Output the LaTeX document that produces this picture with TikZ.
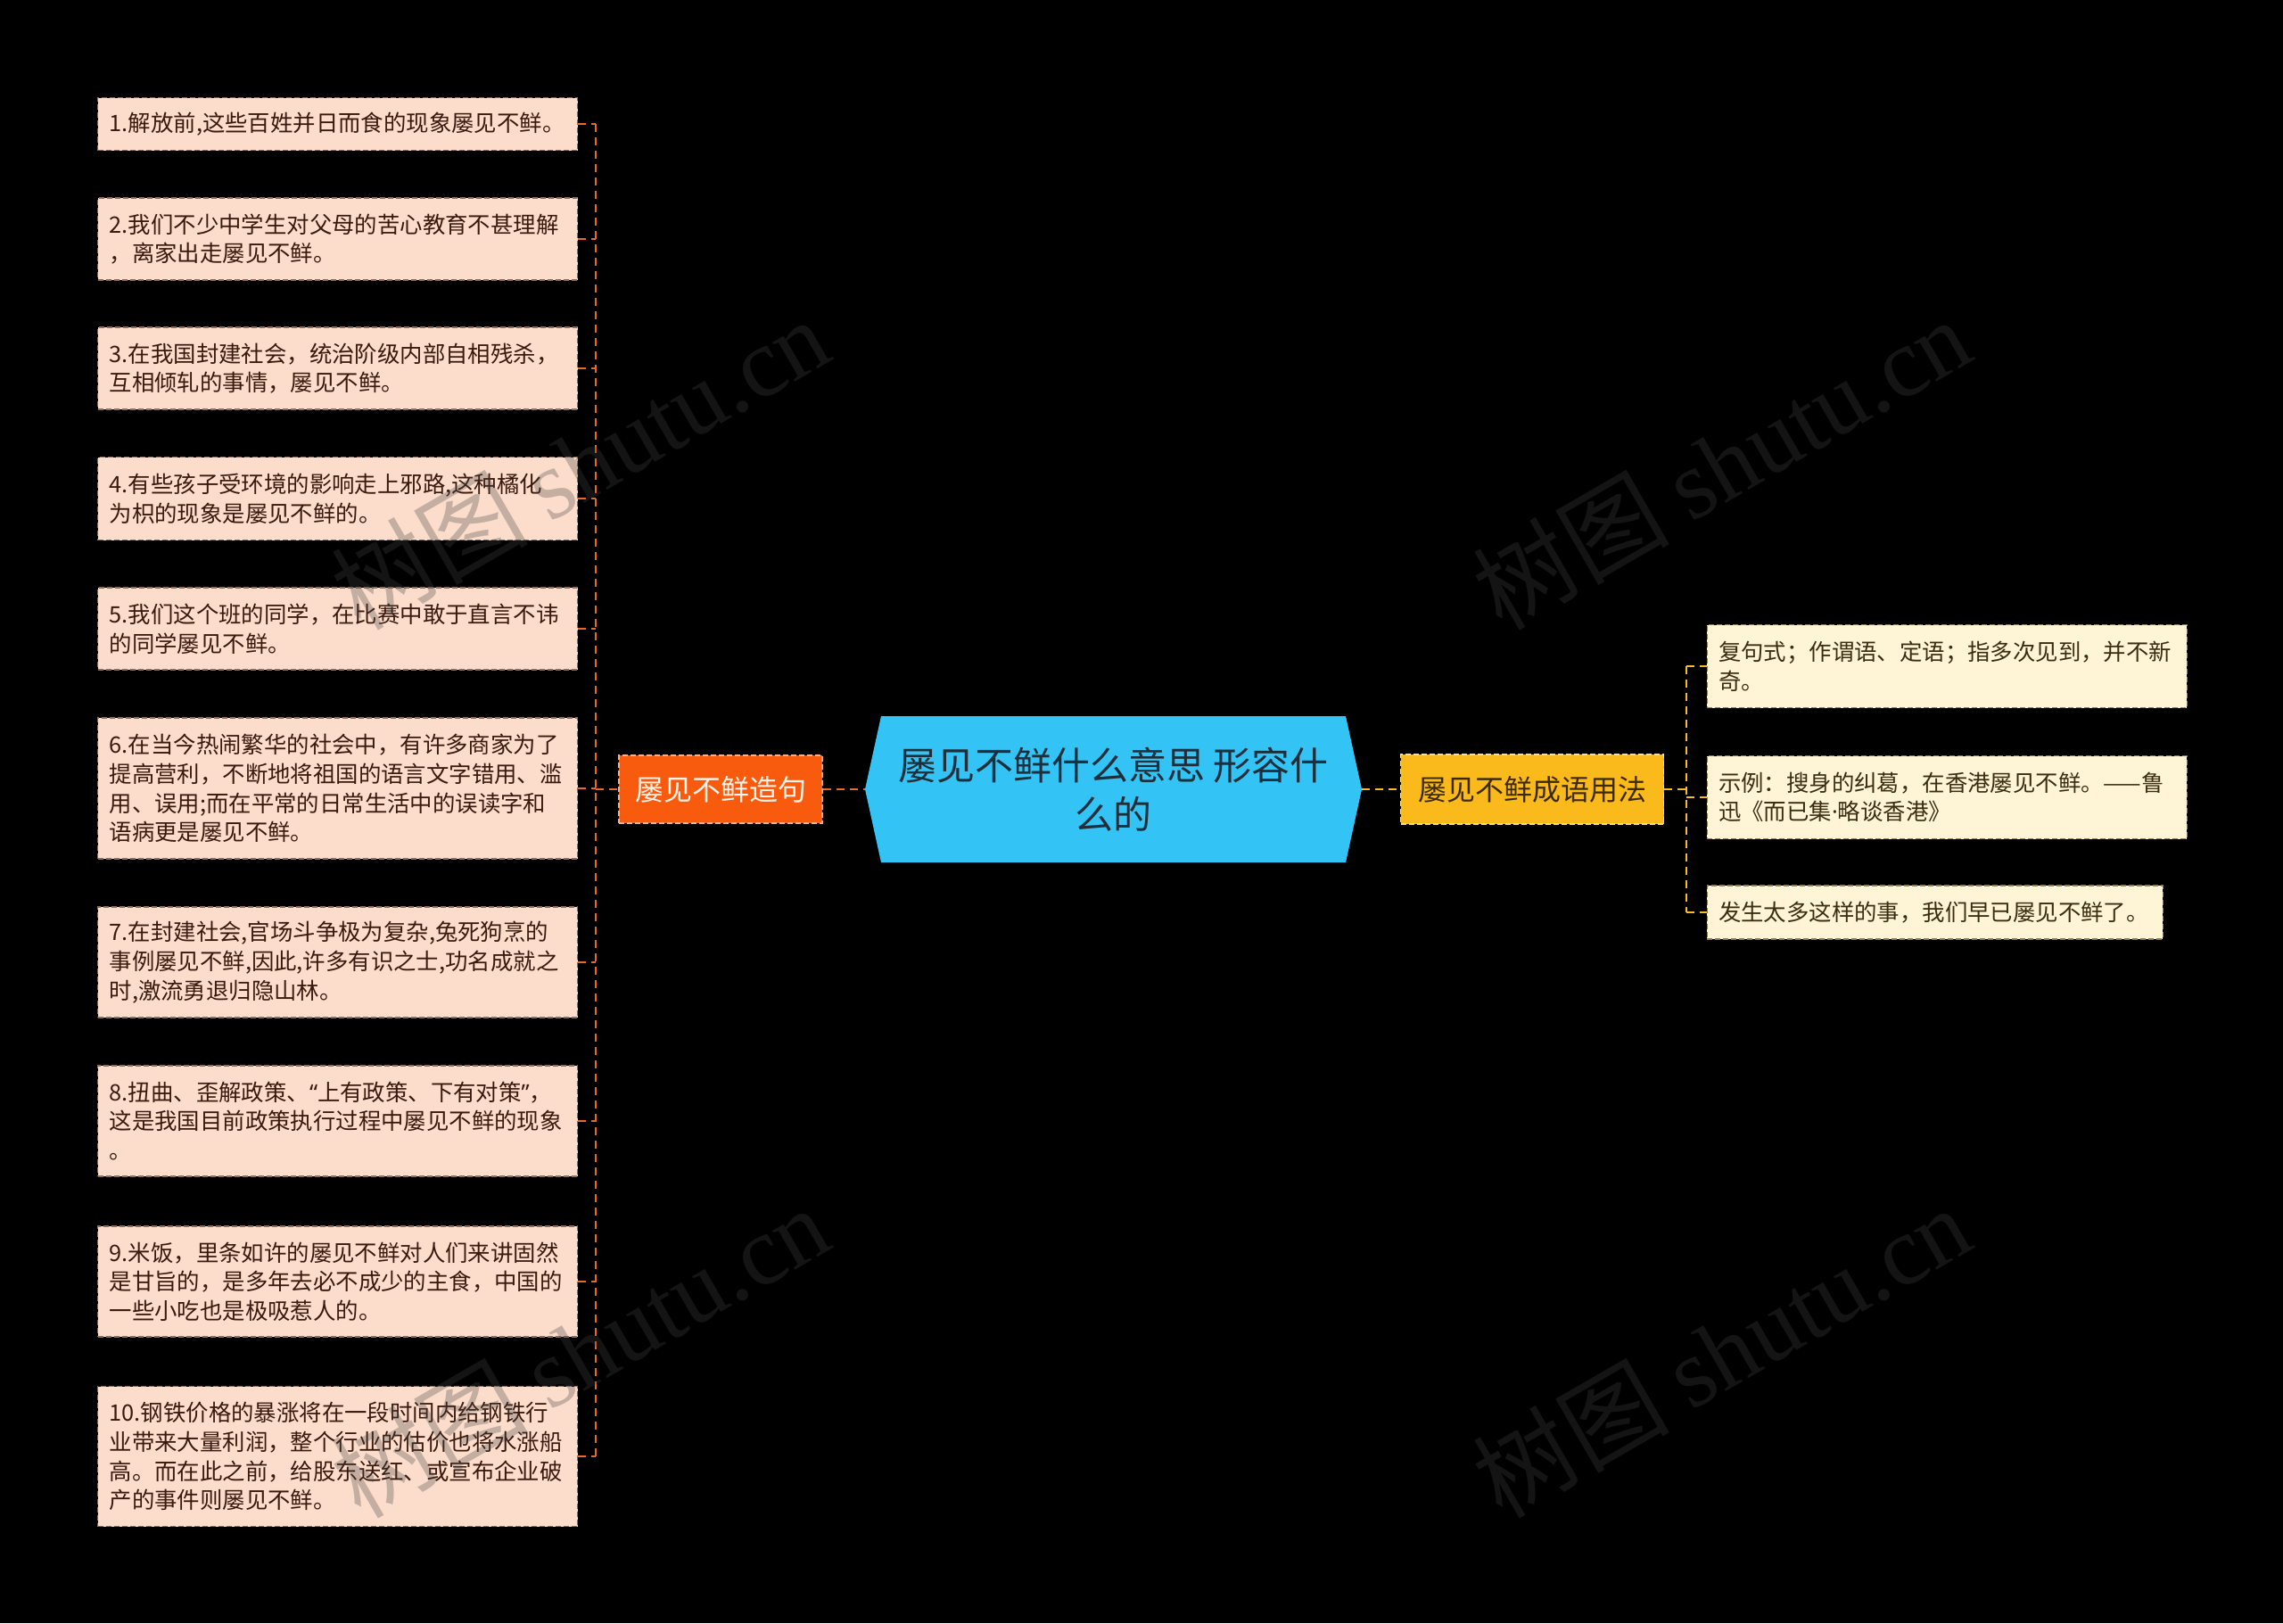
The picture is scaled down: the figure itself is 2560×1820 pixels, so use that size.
\documentclass[tikz,border=0pt]{standalone}
\usepackage{fontspec}
\setmainfont{Noto Sans CJK SC}
\newfontfamily\wmlatin{Liberation Serif}
\newfontfamily\narrowsans{Noto Sans}
\definecolor{leafLfill}{HTML}{FCDDCC}
\definecolor{leafLtext}{HTML}{3A1A0E}
\definecolor{leafLdraw}{HTML}{8C6E60}
\definecolor{leafRfill}{HTML}{FEF4D6}
\definecolor{leafRtext}{HTML}{3A2D10}
\definecolor{leafRdraw}{HTML}{8C7C58}
\definecolor{orangec}{HTML}{F85B0E}
\definecolor{orangeb}{HTML}{FFB088}
\definecolor{orangetext}{HTML}{FFF3EA}
\definecolor{yellowc}{HTML}{FBBA1C}
\definecolor{yellowb}{HTML}{FFE08A}
\definecolor{yellowtext}{HTML}{3B2A05}
\definecolor{rootc}{HTML}{33C3F4}
\definecolor{roottext}{HTML}{1E2E3A}
\definecolor{connLc}{HTML}{E8682E}
\definecolor{connRc}{HTML}{F5BC2A}
\definecolor{wmc}{HTML}{444444}
\tikzset{
  leafL/.style={draw=leafLdraw, dash pattern=on 6bp off 3bp, line width=1.3bp,
    fill=leafLfill, text=leafLtext, font=\fontsize{25.4bp}{32.7bp}\selectfont,
    align=left, text width=512bp, inner xsep=13bp, inner ysep=0bp, anchor=west},
  leafR/.style={leafL, draw=leafRdraw, fill=leafRfill, text=leafRtext},
  branchL/.style={fill=orangec, draw=orangeb, dash pattern=on 6bp off 3bp, line width=1.3bp,
    text=orangetext, font=\fontsize{32bp}{40bp}\selectfont,
    minimum width=228bp, minimum height=76bp, inner sep=0bp},
  branchR/.style={fill=yellowc, draw=yellowb, dash pattern=on 6bp off 3bp, line width=1.3bp,
    text=yellowtext, font=\fontsize{32bp}{40bp}\selectfont,
    minimum width=295bp, minimum height=78bp, inner sep=0bp},
  rootnode/.style={minimum width=557bp, minimum height=164bp, inner sep=0bp,
    text=roottext, font=\fontsize{43bp}{55.5bp}\selectfont, align=center,
    path picture={\fill[rootc]
      ([xshift=18bp]path picture bounding box.north west) --
      ([xshift=-18bp]path picture bounding box.north east) --
      (path picture bounding box.east) --
      ([xshift=-18bp]path picture bounding box.south east) --
      ([xshift=18bp]path picture bounding box.south west) --
      (path picture bounding box.west) -- cycle;}},
  connL/.style={draw=connLc, line width=2.5bp, dash pattern=on 9bp off 6bp},
  connR/.style={draw=connRc, line width=2.5bp, dash pattern=on 9bp off 6bp},
  wm/.style={text=wmc, text opacity=0.3, font=\fontsize{110bp}{110bp}\selectfont, rotate=30, inner sep=0bp}
}
\begin{document}
\begin{tikzpicture}[x=1bp,y=-1bp]
\fill[black] (0,0) rectangle (2560,1820);
\useasboundingbox (0,0) rectangle (2560,1820);

% root and branches
\node[rootnode] (root) at (1248.5,885) {屡见不鲜什么意思 形容什\\么的};
\node[branchL] (bl) at (808,885) {屡见不鲜造句};
\node[branchR] (br) at (1718,885) {屡见不鲜成语用法};

% left leaves
\node[leafL, minimum height=59bp] (l1) at (109,139) {1.解放前,这些百姓并日而食的现象屡见不鲜。};
\node[leafL, minimum height=92bp] (l2) at (109,268) {2.我们不少中学生对父母的苦心教育不甚理解\\，离家出走屡见不鲜。};
\node[leafL, minimum height=92bp] (l3) at (109,413) {3.在我国封建社会，统治阶级内部自相残杀，\\互相倾轧的事情，屡见不鲜。};
\node[leafL, minimum height=93bp] (l4) at (109,559) {4.有些孩子受环境的影响走上邪路,这种橘化\\为枳的现象是屡见不鲜的。};
\node[leafL, minimum height=92bp] (l5) at (109,705) {5.我们这个班的同学，在比赛中敢于直言不讳\\的同学屡见不鲜。};
\node[leafL, minimum height=158bp] (l6) at (109,884) {6.在当今热闹繁华的社会中，有许多商家为了\\提高营利，不断地将祖国的语言文字错用、滥\\用、误用;而在平常的日常生活中的误读字和\\语病更是屡见不鲜。};
\node[leafL, minimum height=124bp] (l7) at (109,1079) {7.在封建社会,官场斗争极为复杂,兔死狗烹的\\事例屡见不鲜,因此,许多有识之士,功名成就之\\时,激流勇退归隐山林。};
\node[leafL, minimum height=124bp] (l8) at (109,1257) {8.扭曲、歪解政策、{\narrowsans “}上有政策、下有对策{\narrowsans ”}，\\这是我国目前政策执行过程中屡见不鲜的现象\\。};
\node[leafL, minimum height=124bp] (l9) at (109,1437) {9.米饭，里条如许的屡见不鲜对人们来讲固然\\是甘旨的，是多年去必不成少的主食，中国的\\一些小吃也是极吸惹人的。};
\node[leafL, minimum height=157bp] (l10) at (109,1633) {10.钢铁价格的暴涨将在一段时间内给钢铁行\\业带来大量利润，整个行业的估价也将水涨船\\高。而在此之前，给股东送红、或宣布企业破\\产的事件则屡见不鲜。};

% right leaves
\node[leafR, minimum height=93bp] (r1) at (1913.5,747) {复句式；作谓语、定语；指多次见到，并不新\\奇。};
\node[leafR, minimum height=93bp] (r2) at (1913.5,894) {示例：搜身的纠葛，在香港屡见不鲜。——鲁\\迅《而已集{\narrowsans ·}略谈香港》};
\node[leafR, minimum height=60bp, text width=485bp] (r3) at (1913.5,1023) {发生太多这样的事，我们早已屡见不鲜了。};

% connectors left
\coordinate (vL) at (668,885);
\draw[connL] (l1.east -| vL) -- (l10.east -| vL);
\foreach \n in {l1,l2,l3,l4,l5,l6,l7,l8,l9,l10}{
  \draw[connL] (\n.east) -- (\n.east -| vL);
}
\draw[connL] (vL) -- (bl.west);
\draw[connL] (bl.east) -- (root.west);

% connectors right
\coordinate (vR) at (1891,885);
\draw[connR] (root.east) -- (br.west);
\draw[connR] (br.east) -- (vR);
\draw[connR] (r1.west -| vR) -- (r3.west -| vR);
\foreach \n in {r1,r2,r3}{
  \draw[connR] (\n.west -| vR) -- (\n.west);
}

% watermarks
\node[wm] (w1) at (650,519) {树图 {\wmlatin shutu.cn}};
\node[wm] (w2) at (1930,519) {树图 {\wmlatin shutu.cn}};
\node[wm] (w3) at (650,1515) {树图 {\wmlatin shutu.cn}};
\node[wm] (w4) at (1930,1515) {树图 {\wmlatin shutu.cn}};
\end{tikzpicture}
\end{document}
